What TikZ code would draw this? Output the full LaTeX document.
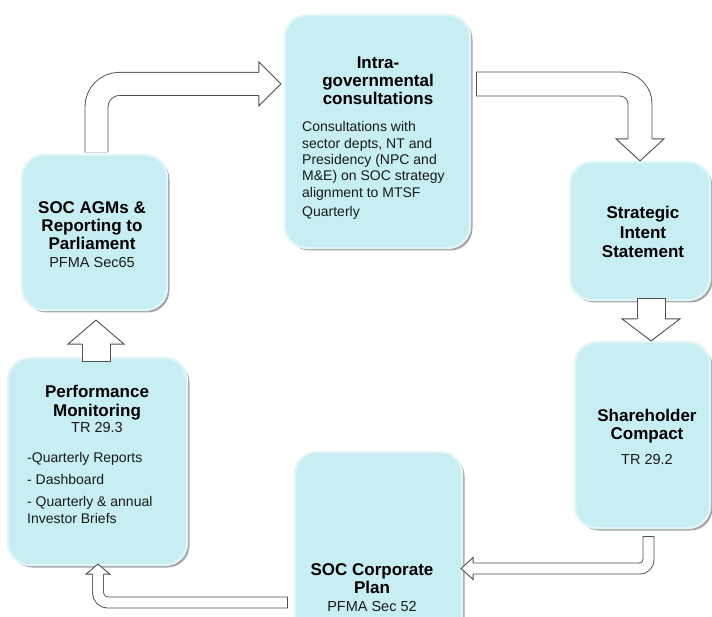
\documentclass[tikz,border=0pt]{standalone}
\usepackage{fontspec}
\setmainfont{Liberation Sans}
\usetikzlibrary{calc,shadows}
\definecolor{boxfill}{RGB}{199,238,242}
\definecolor{boxedge}{RGB}{226,246,248}
\definecolor{arrline}{RGB}{80,80,80}
\newcommand\ttlf{\fontsize{17}{18}\selectfont\bfseries}
\newcommand\bodyf{\fontsize{14}{16.3}\selectfont}
\newcommand\subf{\fontsize{14.5}{17}\selectfont}
% tip, angle, length, head half width, shaft half width
\newcommand\hollowhead[5]{%
  \fill[white,shift={(#1)},rotate=#2] (0,0) -- (-#3,#4) -- (-#3,-#4) -- cycle;
  \draw[arrline,line width=0.9,line join=miter,shift={(#1)},rotate=#2]
    (-#3,#5) -- (-#3,#4) -- (0,0) -- (-#3,-#4) -- (-#3,-#5);}
% straight vertical shaft: start, end, half width
\newcommand\vshaft[3]{%
  \fill[white] ($(#1)+(-#3,0)$) rectangle ($(#2)+(#3,0)$);
  \draw[arrline,line width=0.9,line join=miter]
    ($(#2)+(-#3,0)$) -- ($(#1)+(-#3,0)$) -- ($(#1)+(#3,0)$) -- ($(#2)+(#3,0)$);}
\tikzset{
  box/.style={rectangle, rounded corners=22, fill=boxfill, draw=boxedge, line width=2.2,
    inner sep=0, drop shadow={shadow xshift=2.5pt, shadow yshift=-2.5pt, fill=black, opacity=0.35}},
  shaft/.style={draw=arrline, line width=0.9, double=white, double distance=#1},
  endline/.style={draw=arrline, line width=0.9, line cap=square},
  ttl/.style={font=\ttlf, align=center, inner sep=0, anchor=base, text=black},
  bodytxt/.style={font=\bodyf, align=left, inner sep=0, anchor=base west, text=black!90},
  subtxt/.style={font=\subf, inner sep=0, anchor=base, text=black!90}
}
\begin{document}
\begin{tikzpicture}[x=1pt,y=-1pt]
\useasboundingbox (0,0) rectangle (712,617);
\clip (0,0) rectangle (712,617);
\fill[white] (0,0) rectangle (712,617);

% boxes
\node[box, minimum width=185, minimum height=233] (intra) at (377.5,131.5) {};
\node[box, minimum width=145, minimum height=155] (agm) at (94.5,232.5) {};
\node[box, minimum width=179, minimum height=207] (perf) at (97.5,461.5) {};
\node[box, minimum width=140, minimum height=138] (strat) at (640,231) {};
\node[box, minimum width=135, minimum height=186] (share) at (642.5,435) {};
\node[box, minimum width=167, minimum height=270] (corp) at (378.5,587) {};

% arrow coordinates
\coordinate (s1) at ($(agm.north)+(2,-1.5)$);
\coordinate (t1) at ($(intra.north west)+(-3,70)$);
\coordinate (b1) at ($(t1)+(-22,0)$);
\coordinate (s2) at ($(intra.east)+(5,-47.5)$);
\coordinate (t2) at (strat.north);
\coordinate (b2) at ($(t2)+(0,-22)$);
\coordinate (s3) at ($(strat.south)+(11,-3)$);
\coordinate (t3) at ($(share.north)+(8.5,0)$);
\coordinate (b3) at ($(t3)+(0,-22)$);
\coordinate (s4) at ($(share.south)+(6,7)$);
\coordinate (t4) at ($(corp.east)+(-2,-18.5)$);
\coordinate (b4) at ($(t4)+(12,0)$);
\coordinate (s5) at ($(corp.west)+(-6,15.5)$);
\coordinate (t5) at ($(perf.south)+(0.5,-2)$);
\coordinate (b5) at ($(t5)+(0,10)$);
\coordinate (s6) at ($(perf.north)+(-1.5,5)$);
\coordinate (t6) at ($(agm.south)+(1.5,9)$);
\coordinate (b6) at ($(t6)+(0,24)$);

% 1: AGMs -> Intra-governmental
\draw[shaft=22.1, rounded corners=23] (s1) |- (b1);
\hollowhead{t1}{0}{22}{22}{11.5}
% 2: Intra-governmental -> Strategic
\draw[shaft=23.1, rounded corners=20] (s2) -| (b2);
\draw[endline] ($(s2)+(0,-12)$) -- ($(s2)+(0,12)$);
\hollowhead{t2}{-90}{22}{24}{12}
% 3: Strategic -> Shareholder
\vshaft{s3}{b3}{14}
\hollowhead{t3}{-90}{22}{29}{14}
% 4: Shareholder -> Corporate plan
\draw[shaft=10.1, rounded corners=9] (s4) |- (b4);
\draw[endline] ($(s4)+(-5.5,0)$) -- ($(s4)+(5.5,0)$);
\hollowhead{t4}{180}{12}{11}{5.5}
% 5: Corporate plan -> Performance
\draw[shaft=10.1, rounded corners=10] (s5) -| (b5);
\draw[endline] ($(s5)+(0,-5.5)$) -- ($(s5)+(0,5.5)$);
\hollowhead{t5}{90}{10}{12}{5.5}
% 6: Performance -> AGMs
\vshaft{s6}{b6}{14}
\hollowhead{t6}{90}{24}{28}{14}

% texts (anchor = baseline of the last line)
\node[ttl] (intraT) at (378,105) {Intra-\\governmental\\consultations};
\node[bodytxt] (intraB) at (302,217) {Consultations with\\sector depts, NT and\\Presidency (NPC and\\M\&E) on SOC strategy\\alignment to MTSF\\[3.5pt]Quarterly};

\node[ttl] (agmT) at (92,250) {SOC AGMs \&\\Reporting to\\Parliament};
\node[subtxt] (agmS) at (92,268) {PFMA Sec65};

\node[ttl] (perfT) at (97,416) {Performance\\Monitoring};
\node[subtxt] (perfS) at (97,432) {TR 29.3};
\node[bodytxt] (perfB) at (27,523) {-Quarterly Reports\\[6.5pt]- Dashboard\\[5.5pt]- Quarterly \& annual\\Investor Briefs};

\node[ttl, font={\fontsize{17}{19.5}\selectfont\bfseries}] (stratT) at (643,258) {Strategic\\Intent\\Statement};

\node[ttl] (shareT) at (647,439) {Shareholder\\Compact};
\node[subtxt] (shareS) at (647,464) {TR 29.2};

\node[ttl] (corpT) at (372,593) {SOC Corporate\\Plan};
\node[subtxt] (corpS) at (372,611) {PFMA Sec 52};
\end{tikzpicture}
\end{document}
